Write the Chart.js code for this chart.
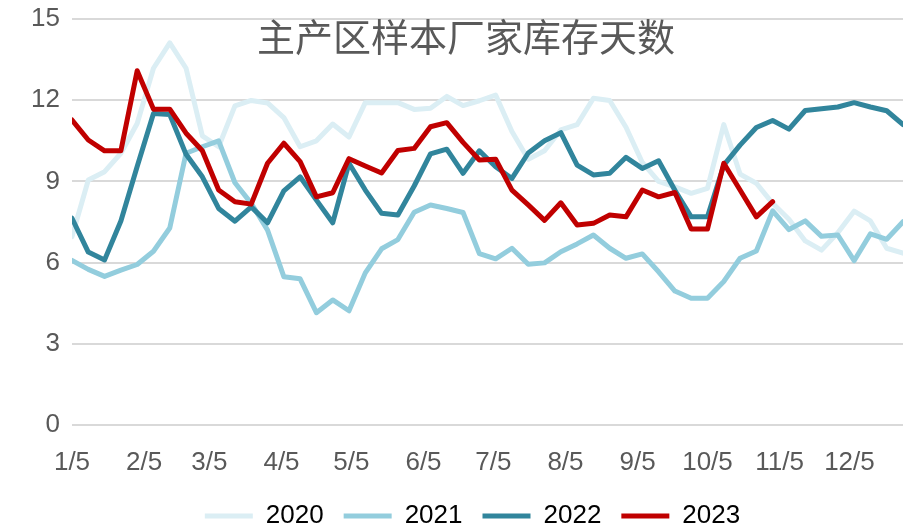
<!DOCTYPE html>
<html>
<head>
<meta charset="utf-8">
<script src="https://cdn.jsdelivr.net/npm/chart.js@4/dist/chart.umd.min.js"></script>
<style>
  body { margin: 0; background: #fff; }
</style>
</head>
<body>
<canvas id="stockDays" width="904" height="529"></canvas>
<script>
// weekly sample-plant inventory days, one point per week starting 1/5
const chartTitle = '主产区样本厂家库存天数';
const seriesNames = ['2020', '2021', '2022', '2023'];
const monthTicks = ['1/5', '2/5', '3/5', '4/5', '5/5', '6/5', '7/5', '8/5', '9/5', '10/5', '11/5', '12/5'];
const yTicks = [0, 3, 6, 9, 12, 15];

const days2020 = [6.96, 9.05, 9.36, 10.04, 11.14, 13.18, 14.12, 13.18, 10.68, 10.28, 11.79, 11.99, 11.9, 11.36, 10.28, 10.5, 11.12, 10.64, 11.91, 11.91, 11.91, 11.66, 11.7, 12.14, 11.8, 11.98, 12.19, 10.84, 9.82, 10.13, 10.9, 11.1, 12.07, 11.99, 11.0, 9.7, 9.0, 8.8, 8.56, 8.74, 11.1, 9.27, 8.93, 8.19, 7.6, 6.8, 6.46, 7.1, 7.9, 7.54, 6.53, 6.35];
const days2021 = [6.08, 5.75, 5.49, 5.72, 5.93, 6.42, 7.28, 10.04, 10.28, 10.5, 8.95, 8.19, 7.2, 5.48, 5.40, 4.15, 4.62, 4.22, 5.62, 6.51, 6.85, 7.86, 8.13, 8.0, 7.85, 6.33, 6.14, 6.53, 5.94, 5.99, 6.40, 6.69, 7.02, 6.53, 6.16, 6.32, 5.66, 4.95, 4.68, 4.68, 5.3, 6.16, 6.43, 7.91, 7.22, 7.54, 6.97, 7.02, 6.07, 7.06, 6.86, 7.51];
const days2022 = [7.64, 6.39, 6.10, 7.54, 9.55, 11.51, 11.47, 10.0, 9.17, 8.0, 7.53, 8.06, 7.47, 8.65, 9.17, 8.31, 7.47, 9.67, 8.68, 7.82, 7.76, 8.83, 10.02, 10.19, 9.30, 10.13, 9.54, 9.11, 10.05, 10.5, 10.8, 9.6, 9.24, 9.30, 9.89, 9.48, 9.76, 8.67, 7.69, 7.69, 9.6, 10.34, 10.99, 11.25, 10.93, 11.62, 11.68, 11.75, 11.91, 11.75, 11.61, 11.1];
const days2023 = [11.27, 10.53, 10.13, 10.13, 13.09, 11.67, 11.67, 10.78, 10.13, 8.68, 8.25, 8.16, 9.67, 10.41, 9.73, 8.43, 8.58, 9.84, 9.57, 9.31, 10.14, 10.22, 11.02, 11.17, 10.44, 9.79, 9.82, 8.68, 8.13, 7.56, 8.21, 7.39, 7.45, 7.76, 7.69, 8.68, 8.43, 8.59, 7.24, 7.24, 9.67, 8.68, 7.69, 8.25];

const colors = ['#dbeef4', '#93cddd', '#31859c', '#c00000'];

// x is a date axis: days counted from 1/5
const DAY = 86400000;
const start = new Date(2023, 0, 5);
const dayOf = (m, d) => Math.round((new Date(2023, m, d) - start) / DAY);
const weekX = days2020.map((_, i) => i * 7);
const tickX = monthTicks.map(t => {
  const [m, d] = t.split('/').map(Number);
  return dayOf(m - 1, d);
});

const allSeries = [days2020, days2021, days2022, days2023];
const datasets = allSeries.map((vals, k) => ({
  label: seriesNames[k],
  data: vals.map((v, i) => ({ x: weekX[i], y: v })),
  borderColor: colors[k],
  backgroundColor: colors[k],
  borderWidth: 5,
  borderJoinStyle: 'round',
  borderCapStyle: 'round',
  pointRadius: 0,
  tension: 0,
  order: 3 - k   // newest year on top
}));

const tickFont = { family: "'Liberation Sans Narrow', 'Liberation Sans', sans-serif", size: 26 };

const whiteBg = {
  id: 'whiteBg',
  beforeDraw(chart) {
    const ctx = chart.ctx;
    ctx.save();
    ctx.fillStyle = '#fff';
    ctx.fillRect(0, 0, chart.width, chart.height);
    ctx.restore();
  }
};

const titleText = {
  id: 'titleText',
  afterDraw(chart) {
    const ctx = chart.ctx;
    ctx.save();
    ctx.font = "38px 'Noto Sans CJK SC'";
    ctx.fillStyle = '#595959';
    ctx.textAlign = 'center';
    ctx.textBaseline = 'middle';
    ctx.fillText(chartTitle, 466, 37);
    ctx.restore();
  }
};

// centre the legend under the plot area rather than the whole canvas
const legendUnderPlot = {
  id: 'legendUnderPlot',
  afterLayout(chart) {
    const lg = chart.legend;
    if (!lg) return;
    lg.left = chart.chartArea.left - 34;
    lg.right = chart.chartArea.right + 4;
  }
};

new Chart(document.getElementById('stockDays'), {
  type: 'line',
  data: { datasets },
  plugins: [whiteBg, titleText, legendUnderPlot],
  options: {
    responsive: false,
    animation: false,
    layout: { padding: { top: 19, right: 1, left: 0, bottom: -10 } },
    plugins: {
      legend: {
        position: 'bottom',
        labels: {
          usePointStyle: true,
          pointStyle: 'line',
          pointStyleWidth: 48,
          color: '#000',
          font: tickFont,
          padding: 20,
          sort: (a, b) => a.datasetIndex - b.datasetIndex
        }
      },
      tooltip: { enabled: false }
    },
    scales: {
      x: {
        type: 'linear',
        min: 0,
        max: weekX[weekX.length - 1],
        afterBuildTicks(scale) {
          scale.ticks = tickX.map(v => ({ value: v }));
        },
        afterFit(scale) { scale.height = 58; },
        grid: { display: false, drawTicks: false },
        border: { display: false },
        ticks: {
          autoSkip: false,
          maxRotation: 0,
          padding: 22,
          color: '#595959',
          font: tickFont,
          callback: (v) => monthTicks[tickX.indexOf(v)]
        }
      },
      y: {
        min: 0,
        max: 15,
        afterBuildTicks(scale) {
          scale.ticks = yTicks.map(v => ({ value: v }));
        },
        afterFit(scale) {
          scale.width = 72;
          scale.paddingTop = 0;
          scale.paddingBottom = 0;
        },
        grid: { color: '#d9d9d9', lineWidth: 2, drawTicks: false },
        border: { display: false },
        ticks: { padding: 12, color: '#595959', font: tickFont }
      }
    }
  }
});
</script>
</body>
</html>
